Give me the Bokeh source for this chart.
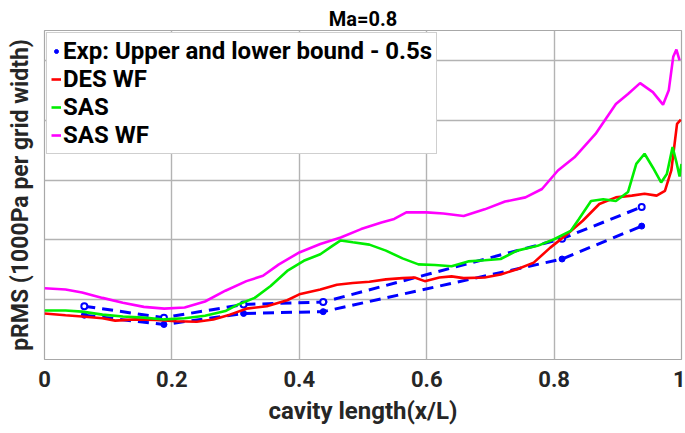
from bokeh.plotting import figure
from bokeh.models import FixedTicker, CustomJSTickFormatter, Legend, LegendItem, Range1d
from bokeh.embed import file_html
from bokeh.resources import INLINE

# ---- data ----
exp_x = [0.0625, 0.1875, 0.3125, 0.4375, 0.8125, 0.9375]
exp_upper = [0.89, 0.70, 0.92, 0.96, 2.02, 2.55]
exp_lower = [0.74, 0.585, 0.77, 0.80, 1.68, 2.23]

des_x = [0.0, 0.033, 0.059, 0.091, 0.111, 0.143, 0.175, 0.207, 0.239, 0.265, 0.291, 0.317,
         0.349, 0.381, 0.400, 0.433, 0.459, 0.484, 0.510, 0.536, 0.562, 0.581, 0.597, 0.620,
         0.639, 0.658, 0.691, 0.716, 0.742, 0.768, 0.794, 0.820, 0.845, 0.871, 0.897, 0.922,
         0.942, 0.961, 0.974, 0.984, 0.993, 0.999]
des_y = [0.77, 0.74, 0.72, 0.69, 0.65, 0.67, 0.66, 0.64, 0.63, 0.67, 0.75, 0.85, 0.89, 0.99,
         1.09, 1.17, 1.25, 1.28, 1.30, 1.34, 1.36, 1.37, 1.31, 1.37, 1.39, 1.36, 1.37, 1.42,
         1.51, 1.62, 1.87, 2.09, 2.32, 2.60, 2.71, 2.74, 2.77, 2.74, 2.82, 3.16, 3.94, 4.01]

sas_x = [0.0, 0.033, 0.059, 0.091, 0.123, 0.156, 0.188, 0.220, 0.252, 0.284, 0.304, 0.330,
         0.355, 0.381, 0.407, 0.433, 0.452, 0.465, 0.484, 0.510, 0.536, 0.562, 0.587, 0.613,
         0.639, 0.665, 0.691, 0.716, 0.742, 0.774, 0.800, 0.826, 0.839, 0.858, 0.877, 0.897,
         0.916, 0.929, 0.942, 0.955, 0.968, 0.977, 0.986, 0.992, 0.997, 1.0]
sas_y = [0.82, 0.82, 0.80, 0.75, 0.72, 0.70, 0.67, 0.69, 0.73, 0.81, 0.92, 1.03, 1.23, 1.48,
         1.65, 1.76, 1.90, 1.99, 1.96, 1.92, 1.82, 1.69, 1.59, 1.58, 1.56, 1.64, 1.66, 1.68,
         1.82, 1.90, 2.01, 2.15, 2.35, 2.65, 2.68, 2.65, 2.80, 3.27, 3.44, 3.21, 2.96, 3.10,
         3.55, 3.30, 3.06, 3.27]

saswf_x = [0.0, 0.033, 0.059, 0.091, 0.123, 0.156, 0.188, 0.220, 0.252, 0.284, 0.317, 0.343,
           0.368, 0.400, 0.433, 0.465, 0.497, 0.529, 0.549, 0.568, 0.600, 0.626, 0.658, 0.691,
           0.723, 0.755, 0.781, 0.806, 0.832, 0.865, 0.897, 0.916, 0.935, 0.955, 0.971, 0.980,
           0.987, 0.992, 0.997]
saswf_y = [1.19, 1.17, 1.12, 1.03, 0.95, 0.88, 0.85, 0.87, 0.97, 1.15, 1.31, 1.40, 1.59, 1.79,
           1.93, 2.04, 2.18, 2.29, 2.35, 2.46, 2.46, 2.44, 2.40, 2.51, 2.64, 2.71, 2.85, 3.16,
           3.38, 3.77, 4.27, 4.44, 4.62, 4.47, 4.26, 4.50, 5.06, 5.18, 5.00]

x_ticks = [0, 0.2, 0.4, 0.6, 0.8, 1.0]
y_grid = [1, 2, 3, 4, 5]

FONT = "Roboto"
TXT = "#262626"

p = figure(width=685, height=433, output_backend="svg", toolbar_location=None,
           x_range=Range1d(0, 1), y_range=Range1d(0, 5.5),
           min_border_left=44, min_border_right=4, min_border_top=30, min_border_bottom=74)

p.title.text = "Ma=0.8"
p.title.align = "center"
p.title.text_font = FONT
p.title.text_font_size = "20px"
p.title.text_font_style = "bold"
p.title.text_color = "#000000"
p.title.standoff = 0

p.outline_line_color = "#a8a8a8"
p.outline_line_width = 1.2

p.xaxis.ticker = FixedTicker(ticks=x_ticks)
p.xaxis.formatter = CustomJSTickFormatter(
    code="return (Math.abs(tick) < 1e-9 || Math.abs(tick-1) < 1e-9) ? tick.toFixed(0) : tick.toFixed(1);")
p.yaxis.ticker = FixedTicker(ticks=[])
p.ygrid[0].ticker = FixedTicker(ticks=y_grid)
p.xgrid[0].ticker = FixedTicker(ticks=x_ticks)

for ax in (p.xaxis[0], p.yaxis[0]):
    ax.axis_line_color = None
    ax.major_tick_line_color = None
    ax.minor_tick_line_color = None
    ax.major_tick_out = 0
    ax.major_tick_in = 0
    ax.axis_label_text_font = FONT
    ax.axis_label_text_font_style = "bold"
    ax.axis_label_text_color = TXT
    ax.major_label_text_font = FONT
    ax.major_label_text_font_style = "bold"
    ax.major_label_text_color = TXT

p.xaxis.major_label_text_font_size = "22px"
p.xaxis.major_label_standoff = 11
p.xaxis.axis_label = "cavity length(x/L)"
p.xaxis.axis_label_text_font_size = "24px"
p.xaxis.axis_label_standoff = 7
p.yaxis.axis_label = "pRMS (1000Pa per grid width)"
p.yaxis.axis_label_text_font_size = "23px"
p.yaxis.major_label_standoff = 0
p.yaxis.axis_label_standoff = 11

p.xgrid.grid_line_color = "#b3b3b3"
p.ygrid.grid_line_color = "#b3b3b3"
p.xgrid.grid_line_width = 1.4
p.ygrid.grid_line_width = 1.4

BLUE = "#0000ff"
up_line = p.line(exp_x, exp_upper, line_color=BLUE, line_width=3, line_dash="11 7")
up_pts = p.scatter(exp_x, exp_upper, marker="circle", size=6, line_color=BLUE,
                   line_width=2, fill_color="white")
lo_line = p.line(exp_x, exp_lower, line_color=BLUE, line_width=3, line_dash="11 7")
lo_pts = p.scatter(exp_x, exp_lower, marker="circle", size=6, line_color=BLUE, fill_color=BLUE)

r_des = p.line(des_x, des_y, line_color="#ff0000", line_width=2.6)
r_sas = p.line(sas_x, sas_y, line_color="#00ee00", line_width=2.6)
r_swf = p.line(saswf_x, saswf_y, line_color="#ff00ff", line_width=2.6)

legend = Legend(items=[
    LegendItem(label="Exp: Upper and lower bound - 0.5s", renderers=[lo_pts]),
    LegendItem(label="DES WF", renderers=[r_des]),
    LegendItem(label="SAS", renderers=[r_sas]),
    LegendItem(label="SAS WF", renderers=[r_swf]),
], location="top_left")
legend.margin = 2
legend.padding = 4
legend.spacing = 0
legend.glyph_width = 10
legend.glyph_height = 26
legend.label_height = 26
legend.label_standoff = 2
legend.label_text_font = FONT
legend.label_text_font_size = "24px"
legend.label_text_font_style = "bold"
legend.label_text_color = "#000000"
legend.border_line_color = "#a0a0a0"
legend.border_line_width = 1
legend.background_fill_alpha = 1
p.add_layout(legend, "center")

open("out.html", "w").write(file_html(p, INLINE))
